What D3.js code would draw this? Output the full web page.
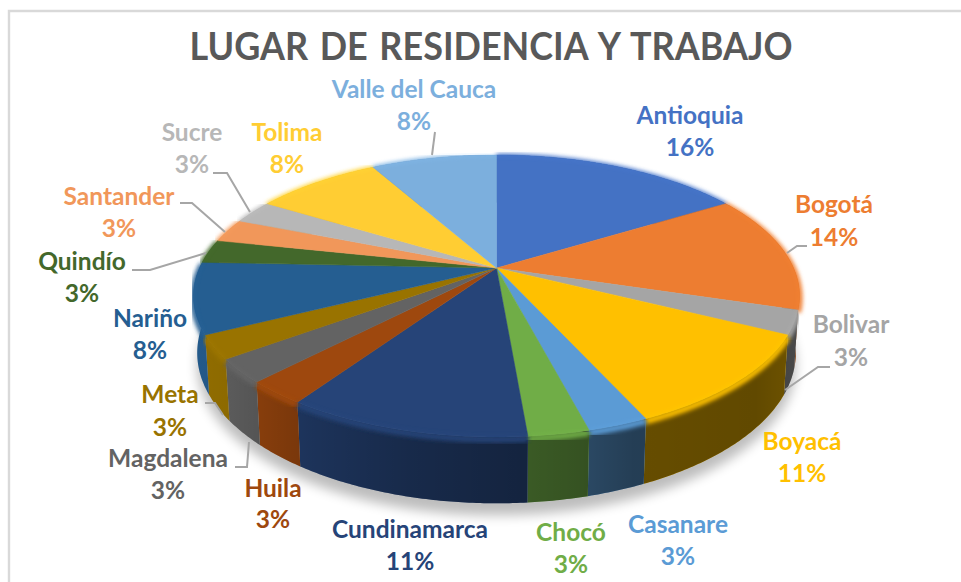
<!DOCTYPE html>
<html><head><meta charset="utf-8">
<script src="https://d3js.org/d3.v7.min.js"></script>
<style>html,body{margin:0;padding:0;background:#fff;overflow:hidden}svg{display:block}
text{font-family:Lato,"Open Sans",sans-serif;font-weight:700;text-anchor:middle}</style>
</head><body><svg id="c" width="961" height="582"></svg>
<script>
const chartTitle = "LUGAR DE RESIDENCIA Y TRABAJO";
const categories = ["Antioquia","Bogotá","Bolivar","Boyacá","Casanare","Chocó","Cundinamarca","Huila","Magdalena","Meta","Nariño","Quindío","Santander","Sucre","Tolima","Valle del Cauca"];
const values = [6,5,1,4,1,1,4,1,1,1,3,1,1,1,3,3];
const colors = ["#4472c4","#ed7d31","#a5a5a5","#ffc000","#5b9bd5","#70ad47","#264478","#9e480e","#636363","#997300","#255e91","#43682b","#f1975a","#b7b7b7","#ffcd33","#7cafdd"];

// label layout: [centre x, name baseline, percent baseline]
const labelPos = [[690,124,156],[834,213,246],[851,333,366],[802,450,482],[678,533,565],[571,541,573],[410,538,570],[273,497,528],[168,467,499],[170,403,436],[150,327,359],[82,270,302],[119,205,237],[192,141,173],[287,141,173],[414,98,130]];
const leaders = [
 [[787,253],[797,246],[807,246]],
 [[785,390],[818,367],[830,367]],
 [[250,212],[227,173],[213,173]],
 [[225,232],[192,203],[180,203]],
 [[432,155],[435,132]],
 [[206,253],[150,270],[132,270]],
 [[223,415],[215,403],[205,403]],
 [[249,442],[247,467],[235,467]]
];

const svg = d3.select("#c");
const total = d3.sum(values);
const pct = d3.format(".0%");

// perspective projection of the pie disc
const cx=496.5, cy=268, R=297, A=135.4, P=0.1986, D=56, Q=0.012;
function proj(theta, z){
  const u=Math.sin(theta), v=-Math.cos(theta), s=1/(1-P*v+Q*z);
  return [cx+R*u*s, cy+A*v*s+D*z*s];
}
const line = d3.line();
function arcPts(a0,a1,z){
  const n=Math.max(2,Math.ceil((a1-a0)/0.01));
  return d3.range(n+1).map(i=>proj(a0+(a1-a0)*i/n,z));
}
const arcs = d3.pie().sort(null).value(d=>d)(values);

const defs = svg.append("defs");
defs.append("filter").attr("id","b1").attr("x","-10%").attr("y","-10%").attr("width","120%").attr("height","120%")
  .append("feGaussianBlur").attr("stdDeviation",2);
defs.append("filter").attr("id","b2").attr("x","-10%").attr("y","-20%").attr("width","120%").attr("height","140%")
  .append("feGaussianBlur").attr("stdDeviation",6);
const shade = defs.append("linearGradient").attr("id","shade").attr("gradientUnits","userSpaceOnUse")
  .attr("x1",190).attr("x2",805).attr("y1",0).attr("y2",0);
[[0,.05],[.06,.08],[.12,.16],[.2,.26],[.35,.38],[.53,.47],[.63,.52],[.72,.6],[.92,.62],[1,.55]].forEach(([o,a])=>
  shade.append("stop").attr("offset",o).attr("stop-color","#000").attr("stop-opacity",a));

// chart frame: only left and top edges are visible
svg.append("path").attr("d",line([[9,582],[9,11],[961,11]])).attr("fill","none").attr("stroke","#d9d9d9").attr("stroke-width",2.4);

// title
svg.append("text").attr("x",491).attr("y",60).attr("font-size",38).attr("fill","#595959")
  .attr("word-spacing",3).attr("textLength",603).attr("lengthAdjust","spacingAndGlyphs").text(chartTitle);

// soft floor shadow
svg.append("path").attr("d",line(arcPts(Math.PI*0.45,Math.PI*1.55,1).map(([x,y])=>[x,y+12])))
  .attr("fill","#000").attr("opacity",.26).attr("filter","url(#b2)");

// side walls, clipped by the top face drawn later
const walls = svg.append("g");
arcs.forEach((d,i)=>{
  const path = line(arcPts(d.startAngle,d.endAngle,0).concat(arcPts(d.startAngle,d.endAngle,1).reverse()))+"Z";
  walls.append("path").attr("d",path).attr("fill",colors[i]);
  walls.append("path").attr("d",path).attr("fill","url(#shade)");
});
// bevel: soft band where the top face turns into the wall
const bevel = svg.append("g");
arcs.forEach((d,i)=>{
  bevel.append("path").attr("d",line(arcPts(d.startAngle,d.endAngle,0.04)))
    .attr("fill","none").attr("stroke",colors[i]).attr("stroke-width",6).attr("filter","url(#b1)");
});

// top face
const topFace = svg.append("g");
arcs.forEach((d,i)=>{
  topFace.append("path").attr("d",line([[cx,cy]].concat(arcPts(d.startAngle,d.endAngle,0)))+"Z")
    .attr("fill",colors[i]).attr("stroke",colors[i]).attr("stroke-width",.5);
});
// highlight on the rim
arcs.forEach((d,i)=>{
  topFace.append("path").attr("d",line(arcPts(d.startAngle,d.endAngle,0)))
    .attr("fill","none").attr("stroke",d3.color(colors[i]).brighter(.35)).attr("stroke-width",2).attr("opacity",.4).attr("filter","url(#b1)");
});

// leader lines
svg.append("g").selectAll("path").data(leaders).join("path")
  .attr("d",d=>line(d)).attr("fill","none").attr("stroke","#a6a6a6").attr("stroke-width",2);

// data labels
const lab = svg.append("g").attr("font-size",24.5);
categories.forEach((name,i)=>{
  const [x,y1,y2]=labelPos[i];
  lab.append("text").attr("x",x).attr("y",y1).attr("fill",colors[i]).text(name);
  lab.append("text").attr("x",x).attr("y",y2).attr("fill",colors[i]).text(pct(values[i]/total));
});
</script></body></html>
